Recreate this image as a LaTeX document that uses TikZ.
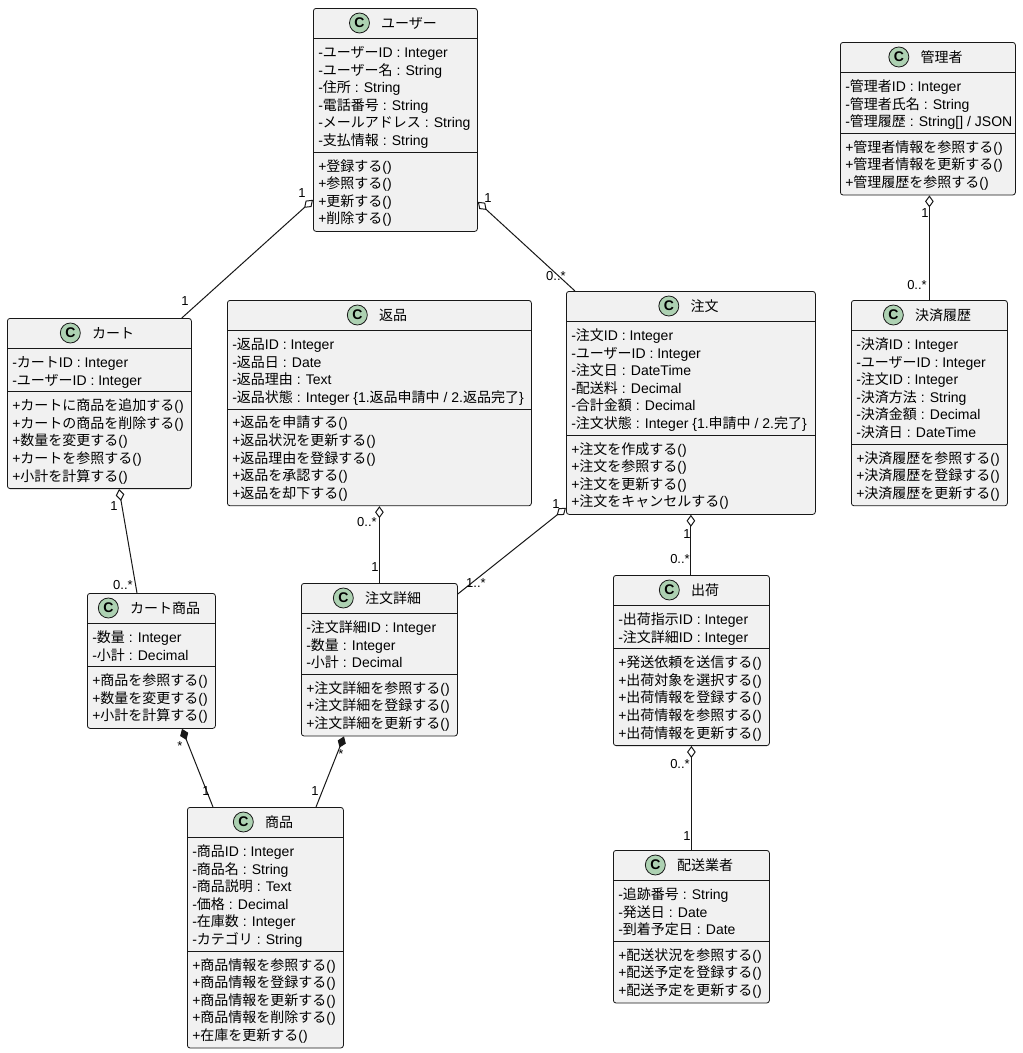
\documentclass[tikz,border=0pt]{standalone}
\usepackage{fontspec}
\setmainfont{Liberation Sans}
\newfontfamily\jpfont{Noto Sans CJK JP}
\usetikzlibrary{arrows.meta,positioning,calc}

% Japanese characters in Noto Sans CJK JP, the rest in Liberation Sans
\XeTeXinterchartokenstate=1
\newXeTeXintercharclass\jpclass
\newcount\jpcode
\jpcode="3000
\loop\XeTeXcharclass\jpcode=\jpclass \ifnum\jpcode<"30FF \advance\jpcode by 1 \repeat
\jpcode="4E00
\loop\XeTeXcharclass\jpcode=\jpclass \ifnum\jpcode<"9FFF \advance\jpcode by 1 \repeat
\XeTeXinterchartoks 0 \jpclass={\jpfont}
\XeTeXinterchartoks 4095 \jpclass={\jpfont}
\XeTeXinterchartoks \jpclass 0={\rmfamily}
\XeTeXinterchartoks \jpclass 4095={\rmfamily}

\definecolor{clsfill}{HTML}{F1F1F1}
\definecolor{clsline}{HTML}{181818}
\definecolor{spotfill}{HTML}{ADD1B2}

\tikzset{
  classbox/.style={draw=clsline,fill=clsfill,line width=0.6pt,rounded corners=2pt,inner sep=0pt,anchor=north west},
  classline/.style={draw=clsline,line width=0.6pt},
  classname/.style={inner sep=0pt,font=\fontsize{10.5}{12}\selectfont\jpfont},
  spot/.style={circle,draw=clsline,fill=spotfill,line width=0.6pt,minimum size=15pt,inner sep=0pt,font=\fontsize{10.5}{12}\selectfont\bfseries},
  member/.style={anchor=base west,inner sep=0pt,font=\fontsize{10.5}{12}\selectfont},
  mult/.style={anchor=base,inner sep=0pt,font=\fontsize{9.75}{12}\selectfont},
  link/.style={draw=clsline,line width=0.75pt},
  agg/.style={link,arrows={Diamond[open,length=9pt,width=6.5pt]-}},
  comp/.style={link,arrows={Diamond[length=9pt,width=6.5pt]-}},
}

% #1 name, #2 left, #3 top, #4 width, #5 title,
% #6 number of attributes, #7 attributes, #8 number of methods, #9 methods
\newcommand{\umlclass}[9]{%
  \pgfmathsetmacro\attrh{#6*17.6+8}
  \pgfmathsetmacro\methh{#8*17.6+8.5}
  \node[classbox,minimum width=#4*0.75pt,minimum height=(30.5+\attrh+\methh)*0.75pt] (#1) at (#2,#3) {};
  \draw[classline] (#2,#3+30.5) -- ++(#4,0);
  \draw[classline] (#2,#3+30.5+\attrh) -- ++(#4,0);
  \node[classname] (#1-name) at (#2+#4/2+14,#3+15) {#5};
  \node[spot,left=8.25pt of #1-name] (#1-spot) {C};
  \foreach \m [count=\i] in {#7}
    \node[member] (#1-a\i) at (#2+5,#3+30.5+19+\i*17.6-17.6) {\m};
  \foreach \m [count=\i] in {#9}
    \node[member] (#1-m\i) at (#2+5,#3+30.5+\attrh+19+\i*17.6-17.6) {\m};
}

\begin{document}
\begin{tikzpicture}[x=0.75pt,y=-0.75pt]
  \useasboundingbox[fill=white] (0,0) rectangle (1023,1053);

  \umlclass{user}{313}{8}{164}{ユーザー}
    {6}{{-ユーザーID : Integer},{-ユーザー名 : String},{-住所 : String},{-電話番号 : String},{-メールアドレス : String},{-支払情報 : String}}
    {4}{{+登録する()},{+参照する()},{+更新する()},{+削除する()}}
  \umlclass{admin}{840}{42}{175}{管理者}
    {3}{{-管理者ID : Integer},{-管理者氏名 : String},{-管理履歴 : String[] / JSON}}
    {3}{{+管理者情報を参照する()},{+管理者情報を更新する()},{+管理履歴を参照する()}}
  \umlclass{settle}{851}{300}{156}{決済履歴}
    {6}{{-決済ID : Integer},{-ユーザーID : Integer},{-注文ID : Integer},{-決済方法 : String},{-決済金額 : Decimal},{-決済日 : DateTime}}
    {3}{{+決済履歴を参照する()},{+決済履歴を登録する()},{+決済履歴を更新する()}}
  \umlclass{cart}{7}{318}{184}{カート}
    {2}{{-カートID : Integer},{-ユーザーID : Integer}}
    {5}{{+カートに商品を追加する()},{+カートの商品を削除する()},{+数量を変更する()},{+カートを参照する()},{+小計を計算する()}}
  \umlclass{ret}{227}{300}{304}{返品}
    {4}{{-返品ID : Integer},{-返品日 : Date},{-返品理由 : Text},{-返品状態 : Integer \{1.返品申請中 / 2.返品完了\}}}
    {5}{{+返品を申請する()},{+返品状況を更新する()},{+返品理由を登録する()},{+返品を承認する()},{+返品を却下する()}}
  \umlclass{order}{566}{291}{249}{注文}
    {6}{{-注文ID : Integer},{-ユーザーID : Integer},{-注文日 : DateTime},{-配送料 : Decimal},{-合計金額 : Decimal},{-注文状態 : Integer \{1.申請中 / 2.完了\}}}
    {4}{{+注文を作成する()},{+注文を参照する()},{+注文を更新する()},{+注文をキャンセルする()}}
  \umlclass{cartitem}{87}{593}{128}{カート商品}
    {2}{{-数量 : Integer},{-小計 : Decimal}}
    {3}{{+商品を参照する()},{+数量を変更する()},{+小計を計算する()}}
  \umlclass{detail}{301}{583}{156}{注文詳細}
    {3}{{-注文詳細ID : Integer},{-数量 : Integer},{-小計 : Decimal}}
    {3}{{+注文詳細を参照する()},{+注文詳細を登録する()},{+注文詳細を更新する()}}
  \umlclass{ship}{613}{575}{156}{出荷}
    {2}{{-出荷指示ID : Integer},{-注文詳細ID : Integer}}
    {5}{{+発送依頼を送信する()},{+出荷対象を選択する()},{+出荷情報を登録する()},{+出荷情報を参照する()},{+出荷情報を更新する()}}
  \umlclass{product}{187}{807}{156}{商品}
    {6}{{-商品ID : Integer},{-商品名 : String},{-商品説明 : Text},{-価格 : Decimal},{-在庫数 : Integer},{-カテゴリ : String}}
    {5}{{+商品情報を参照する()},{+商品情報を登録する()},{+商品情報を更新する()},{+商品情報を削除する()},{+在庫を更新する()}}
  \umlclass{carrier}{613}{850}{156}{配送業者}
    {3}{{-追跡番号 : String},{-発送日 : Date},{-到着予定日 : Date}}
    {3}{{+配送状況を参照する()},{+配送予定を登録する()},{+配送予定を更新する()}}

  % aggregations
  \draw[agg] ($(user.south west)+(0,-32)$) -- ($(cart.north east)+(-10,0)$);
  \draw[agg] ($(user.south east)+(0,-30)$) -- ($(order.north west)+(9,0)$);
  \draw[agg] (settle.north |- admin.south) -- (settle.north);
  \draw[agg] ($(cart.south west)+(112,0)$) -- ($(cartitem.north west)+(50,0)$);
  \draw[agg] (ret.south) -- (ret.south |- detail.north);
  \draw[agg] ($(order.south west)+(0,-7)$) -- ($(detail.north east)+(0,11)$);
  \draw[agg] (order.south) -- (order.south |- ship.north);
  \draw[agg] (ship.south) -- (carrier.north);
  % compositions
  \draw[comp] ($(cartitem.south west)+(95,0)$) -- ($(product.north west)+(26,0)$);
  \draw[comp] ($(detail.south west)+(43,0)$) -- ($(product.north west)+(129,0)$);

  % multiplicities
  \node[mult] (m-uc1) at (302,197.5) {1};
  \node[mult] (m-uc2) at (185,305) {1};
  \node[mult] (m-uo1) at (488,202) {1};
  \node[mult] (m-uo2) at (556,280) {0..*};
  \node[mult] (m-as1) at (925,217) {1};
  \node[mult] (m-as2) at (917,289) {0..*};
  \node[mult] (m-cc1) at (114,510) {1};
  \node[mult] (m-cc2) at (123,589) {0..*};
  \node[mult] (m-rd1) at (367,526.5) {0..*};
  \node[mult] (m-rd2) at (375,571.5) {1};
  \node[mult] (m-od1) at (556,508) {1};
  \node[mult] (m-od2) at (476,587) {1..*};
  \node[mult] (m-os1) at (687,538) {1};
  \node[mult] (m-os2) at (680,563) {0..*};
  \node[mult] (m-sc1) at (680,768) {0..*};
  \node[mult] (m-sc2) at (687,840) {1};
  \node[mult] (m-cp1) at (180,750) {*};
  \node[mult] (m-cp2) at (206,795) {1};
  \node[mult] (m-dp1) at (341,758) {*};
  \node[mult] (m-dp2) at (315,795) {1};
\end{tikzpicture}
\end{document}
